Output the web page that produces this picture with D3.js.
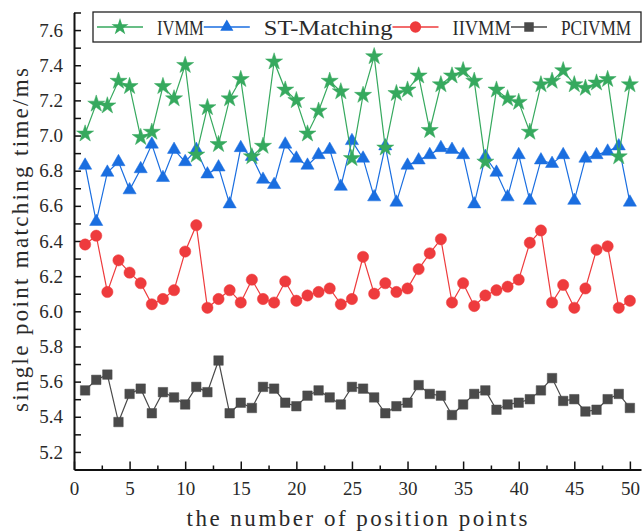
<!DOCTYPE html>
<html>
<head>
<meta charset="utf-8">
<script src="https://cdn.jsdelivr.net/npm/d3@7"></script>
<style>
  body { margin: 0; background: #fff; }
  text { font-family: "Liberation Serif", "DejaVu Serif", serif; fill: #2a2a2a; }
</style>
</head>
<body>
<svg id="chart" width="644" height="531"></svg>
<script>
// position point index (1..50)
const positions = d3.range(1, 51);

const ivmm = [7.01, 7.18, 7.17, 7.31, 7.28, 6.99, 7.02, 7.28, 7.21, 7.40,
              6.89, 7.16, 6.95, 7.21, 7.32, 6.88, 6.94, 7.42, 7.26, 7.20,
              7.01, 7.14, 7.31, 7.25, 6.87, 7.23, 7.45, 6.93, 7.24, 7.26,
              7.34, 7.03, 7.29, 7.34, 7.37, 7.31, 6.85, 7.26, 7.21, 7.19,
              7.02, 7.29, 7.31, 7.37, 7.29, 7.27, 7.30, 7.32, 6.88, 7.29];

const stMatching = [6.83, 6.51, 6.79, 6.85, 6.69, 6.81, 6.95, 6.76, 6.92, 6.85,
                    6.92, 6.78, 6.82, 6.61, 6.93, 6.88, 6.75, 6.72, 6.95, 6.87,
                    6.83, 6.89, 6.92, 6.71, 6.97, 6.87, 6.65, 6.94, 6.62, 6.83,
                    6.86, 6.89, 6.93, 6.92, 6.89, 6.61, 6.88, 6.79, 6.65, 6.89,
                    6.63, 6.86, 6.84, 6.89, 6.63, 6.87, 6.89, 6.91, 6.94, 6.62];

const iivmm = [6.38, 6.43, 6.11, 6.29, 6.22, 6.16, 6.04, 6.07, 6.12, 6.34,
               6.49, 6.02, 6.07, 6.12, 6.05, 6.18, 6.07, 6.05, 6.17, 6.06,
               6.09, 6.11, 6.13, 6.04, 6.07, 6.31, 6.10, 6.16, 6.11, 6.13,
               6.24, 6.33, 6.41, 6.05, 6.16, 6.03, 6.09, 6.12, 6.14, 6.18,
               6.39, 6.46, 6.05, 6.15, 6.02, 6.13, 6.35, 6.37, 6.02, 6.06];

const pcivmm = [5.55, 5.61, 5.64, 5.37, 5.53, 5.56, 5.42, 5.54, 5.51, 5.47,
                5.57, 5.54, 5.72, 5.42, 5.48, 5.45, 5.57, 5.56, 5.48, 5.46,
                5.52, 5.55, 5.51, 5.47, 5.57, 5.56, 5.51, 5.42, 5.46, 5.48,
                5.58, 5.53, 5.52, 5.41, 5.47, 5.53, 5.55, 5.44, 5.47, 5.48,
                5.50, 5.55, 5.62, 5.49, 5.50, 5.43, 5.44, 5.50, 5.53, 5.45];

const seriesNames = ["IVMM", "ST-Matching", "IIVMM", "PCIVMM"];
const xTicks = [0, 5, 10, 15, 20, 25, 30, 35, 40, 45, 50];
const xMinorTicks = [2.5, 7.5, 12.5, 17.5, 22.5, 27.5, 32.5, 37.5, 42.5, 47.5];
const yTicks = [5.2, 5.4, 5.6, 5.8, 6.0, 6.2, 6.4, 6.6, 6.8, 7.0, 7.2, 7.4, 7.6];
const yMinorTicks = [5.3, 5.5, 5.7, 5.9, 6.1, 6.3, 6.5, 6.7, 6.9, 7.1, 7.3, 7.5, 7.7];

const series = [
  { name: seriesNames[0], values: ivmm, color: "#36a95e", symbol: d3.symbolStar, size: 90, legendLine: 46 },
  { name: seriesNames[1], values: stMatching, color: "#1a6ee0", symbol: d3.symbolTriangle, size: 75, legendLine: 46 },
  { name: seriesNames[2], values: iivmm, color: "#ee3b3d", symbol: d3.symbolCircle, size: 100, legendLine: 46 },
  { name: seriesNames[3], values: pcivmm, color: "#4a4a4a", symbol: d3.symbolSquare, size: 90, legendLine: 36 },
];

const svg = d3.select("#chart");
svg.append("rect").attr("width", 644).attr("height", 531).attr("fill", "#fff");

const x = d3.scaleLinear().domain([0, 51]).range([74, 641]);
const y = d3.scaleLinear().domain([5.1, 7.7]).range([469.5, 12.5]);

// x axis
svg.append("g")
  .attr("transform", `translate(0, ${y(5.1)})`)
  .call(d3.axisBottom(x).tickValues(xTicks).tickFormat(d3.format("d"))
    .tickSizeInner(-8).tickSizeOuter(0).tickPadding(12));
svg.append("g")
  .attr("transform", `translate(0, ${y(5.1)})`)
  .call(d3.axisBottom(x).tickValues(xMinorTicks).tickFormat("")
    .tickSizeInner(-4).tickSizeOuter(0))
  .select(".domain").remove();

// y axis
svg.append("g")
  .attr("transform", `translate(${x(0)}, 0)`)
  .call(d3.axisLeft(y).tickValues(yTicks).tickFormat(d3.format(".1f"))
    .tickSizeInner(-7).tickSizeOuter(0).tickPadding(11));
svg.append("g")
  .attr("transform", `translate(${x(0)}, 0)`)
  .call(d3.axisLeft(y).tickValues(yMinorTicks).tickFormat("")
    .tickSizeInner(-7).tickSizeOuter(0))
  .select(".domain").remove();

svg.selectAll(".domain").attr("stroke", "#111").attr("stroke-width", 2);
svg.selectAll(".tick line").attr("stroke", "#111").attr("stroke-width", 1.5);
svg.selectAll(".tick text")
  .style("font-family", "'Liberation Serif', serif")
  .attr("font-size", 19)
  .attr("fill", "#333");

// axis titles
svg.append("text")
  .attr("x", 357).attr("y", 526)
  .attr("text-anchor", "middle")
  .attr("font-size", 23)
  .attr("textLength", 341).attr("lengthAdjust", "spacing")
  .text("the number of position points");

svg.append("text")
  .attr("transform", "translate(28, 240) rotate(-90)")
  .attr("text-anchor", "middle")
  .attr("font-size", 23)
  .attr("textLength", 344).attr("lengthAdjust", "spacing")
  .text("single point matching time/ms");

// series, drawn back to front so the stars end on top
const line = d3.line()
  .x((d, i) => x(positions[i]))
  .y(d => y(d));

series.slice().reverse().forEach(s => {
  const g = svg.append("g");
  g.append("path")
    .datum(s.values)
    .attr("fill", "none")
    .attr("stroke", s.color)
    .attr("stroke-width", 1.2)
    .attr("d", line);
  g.selectAll("path.marker")
    .data(s.values)
    .enter()
    .append("path")
    .attr("class", "marker")
    .attr("transform", (d, i) => `translate(${x(positions[i])}, ${y(d)})`)
    .attr("d", d3.symbol().type(s.symbol).size(s.size))
    .attr("fill", s.color)
    .attr("stroke", s.color)
    .attr("stroke-width", 0.5);
});

// legend
const legend = svg.append("g");
legend.append("rect")
  .attr("x", 93).attr("y", 12)
  .attr("width", 548).attr("height", 30)
  .attr("fill", "#fff")
  .attr("stroke", "#222")
  .attr("stroke-width", 1.3);

let cursor = 97;
series.forEach(s => {
  const g = legend.append("g");
  const half = s.legendLine / 2;
  g.append("line")
    .attr("x1", cursor).attr("x2", cursor + s.legendLine)
    .attr("y1", 27).attr("y2", 27)
    .attr("stroke", s.color).attr("stroke-width", 1.3);
  g.append("path")
    .attr("transform", `translate(${cursor + half}, 27)`)
    .attr("d", d3.symbol().type(s.symbol).size(s.size))
    .attr("fill", s.color);
  const w = s.name.length * 11.7;
  const tx = cursor + s.legendLine + 14;
  const t = g.append("text")
    .attr("font-size", 22)
    .text(s.name);
  // squeeze the label horizontally to the narrow look of the original font
  const natural = t.node().getComputedTextLength();
  t.attr("transform", `translate(${tx}, 35) scale(${w / natural}, 1)`);
  cursor = tx + w;
});
</script>
</body>
</html>
